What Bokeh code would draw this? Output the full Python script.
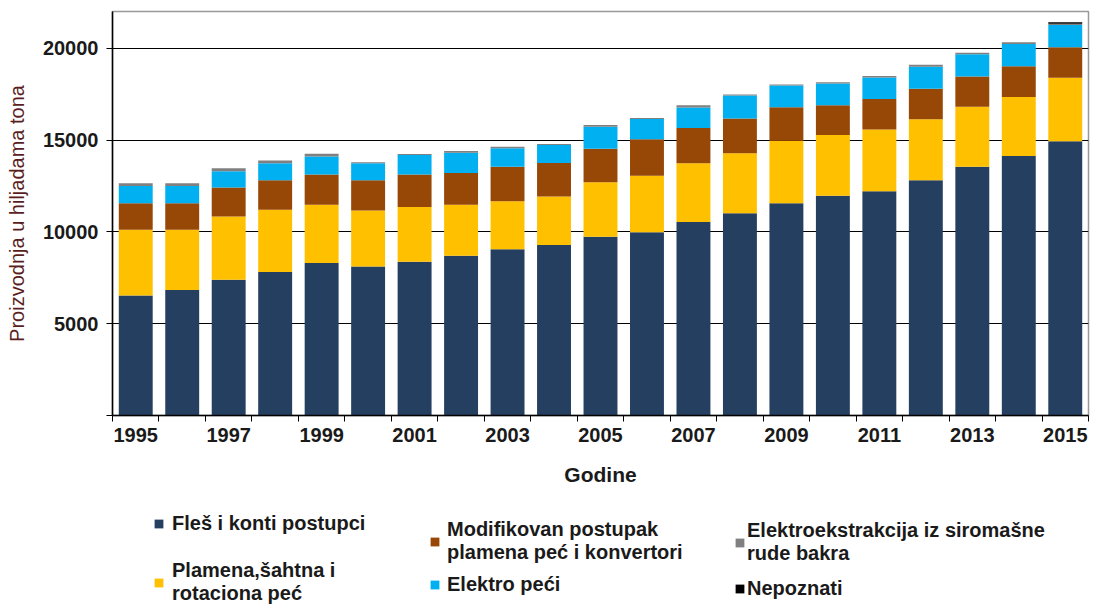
from bokeh.plotting import figure
from bokeh.models import (ColumnDataSource, Range1d, FixedTicker, Legend, LegendItem)
from bokeh.layouts import column
from bokeh.embed import file_html
from bokeh.resources import INLINE

years = list(range(1995, 2016))
fles = [6540, 6830, 7390, 7810, 8300, 8120, 8370, 8700, 9060, 9280, 9740,
        9980, 10540, 11020, 11560, 11960, 12210, 12810, 13550, 14130, 14930]
plamena = [3570, 3280, 3440, 3390, 3170, 3040, 2990, 2770, 2610, 2640, 2960,
           3080, 3190, 3260, 3400, 3310, 3370, 3320, 3260, 3220, 3460]
modifikovan = [1450, 1450, 1580, 1610, 1650, 1650, 1760, 1740, 1880, 1830, 1830,
               1980, 1920, 1900, 1820, 1620, 1660, 1660, 1650, 1670, 1670]
elektro = [940, 940, 890, 920, 980, 920, 1070, 1100, 1000, 980, 1200,
           1100, 1120, 1250, 1190, 1190, 1160, 1200, 1210, 1210, 1200]
ekstrakcija = [150, 150, 160, 160, 150, 55, 55, 90, 90, 55, 90,
               55, 130, 55, 55, 70, 90, 110, 90, 90, 70]
nepoznati = [0] * 20 + [90]

series = ["fles", "plamena", "modifikovan", "elektro", "ekstrakcija", "nepoznati"]
labels = ["Fleš i konti postupci", "Plamena,šahtna i\nrotaciona peć",
          "Modifikovan postupak\nplamena peć i konvertori", "Elektro peći",
          "Elektroekstrakcija iz siromašne\nrude bakra", "Nepoznati"]
colors = ["#243F60", "#FFC000", "#974706", "#00B0F0", "#808080", "#000000"]
y_ticks = [0, 5000, 10000, 15000, 20000]
x_label_years = [1995, 1997, 1999, 2001, 2003, 2005, 2007, 2009, 2011, 2013, 2015]

source = ColumnDataSource(dict(year=years, fles=fles, plamena=plamena,
                               modifikovan=modifikovan, elektro=elektro,
                               ekstrakcija=ekstrakcija, nepoznati=nepoznati))

FONT = "Liberation Sans"
W = 1090

p = figure(width=W, height=500, output_backend="svg", toolbar_location=None,
           x_range=Range1d(years[0] - 0.5, years[-1] + 0.5), y_range=Range1d(0, 22000),
           min_border_left=112, min_border_right=2, min_border_top=11, min_border_bottom=85)

p.vbar_stack(series, x="year", width=0.73, color=colors, line_color=None, source=source)

p.outline_line_color = "#999999"
p.outline_line_width = 1.5
p.background_fill_color = "white"
p.border_fill_color = "white"

p.xgrid.visible = False
p.ygrid.grid_line_color = "black"
p.ygrid.grid_line_width = 1.2
p.ygrid.ticker = FixedTicker(ticks=y_ticks[1:])

# y axis
ya = p.yaxis[0]
ya.ticker = FixedTicker(ticks=y_ticks)
ya.major_label_overrides = {0: ""}
ya.axis_line_color = "black"
ya.axis_line_width = 1.5
ya.major_tick_line_color = "black"
ya.major_tick_out = 6
ya.major_tick_in = 0
ya.minor_tick_line_color = None
ya.major_label_standoff = 8
ya.major_label_text_font = FONT
ya.major_label_text_font_style = "bold"
ya.major_label_text_font_size = "20px"
ya.major_label_text_color = "#1a1a1a"
ya.axis_label = "Proizvodnja u hiljadama tona"
ya.axis_label_text_font = FONT
ya.axis_label_text_font_style = "normal"
ya.axis_label_text_font_size = "20px"
ya.axis_label_text_color = "#5a1e1e"
ya.axis_label_standoff = 12

# x axis
xa = p.xaxis[0]
xa.ticker = FixedTicker(ticks=x_label_years,
                        minor_ticks=[y - 0.5 for y in years] + [years[-1] + 0.5])
xa.major_label_overrides = {y: str(y) for y in x_label_years}
xa.axis_line_color = "black"
xa.axis_line_width = 1.5
xa.major_tick_line_color = None
xa.major_tick_out = 6
xa.major_tick_in = 0
xa.minor_tick_line_color = "black"
xa.minor_tick_out = 6
xa.minor_tick_in = 0
xa.major_label_standoff = 6
xa.major_label_text_font = FONT
xa.major_label_text_font_style = "bold"
xa.major_label_text_font_size = "20px"
xa.major_label_text_color = "#1a1a1a"
xa.axis_label = "Godine"
xa.axis_label_text_font = FONT
xa.axis_label_text_font_style = "bold"
xa.axis_label_text_font_size = "21px"
xa.axis_label_text_color = "#1a1a1a"
xa.axis_label_standoff = 18

# legend panel (separate figure below the chart; its frame is aligned with the chart's)
lf = figure(width=W, height=105, output_backend="svg", toolbar_location=None,
            x_range=Range1d(years[0] - 0.5, years[-1] + 0.5),
            y_range=Range1d(-30000, -25000),
            min_border_left=0, min_border_right=0, min_border_top=0, min_border_bottom=0)
lf.axis.visible = False
lf.grid.visible = False
lf.outline_line_color = None
lf.background_fill_color = "white"
lf.border_fill_color = "white"

# same stacked series drawn with zero width (invisible): used only for the legend swatches
leg_renderers = lf.vbar_stack(series, x="year", width=0, color=colors,
                              line_color=None, source=source)


def make_legend(idx, loc, spacing, standoff):
    lg = Legend(items=[LegendItem(label=labels[i], renderers=[leg_renderers[i]]) for i in idx],
                location=loc, orientation="vertical", spacing=spacing,
                padding=0, margin=0, glyph_width=11, glyph_height=11,
                label_standoff=standoff, label_text_font=FONT,
                label_text_font_style="bold", label_text_font_size="20px",
                label_text_line_height=1.05,
                label_text_color="#1a1a1a", border_line_color=None,
                background_fill_alpha=0, label_height=20)
    lf.add_layout(lg, "center")


make_legend([0, 1], (41, 0), 24, 8)
make_legend([2, 3], (317, 9), 9, 7)
make_legend([4, 5], (622, 5), 12, 2)

layout = column(p, lf, spacing=0)
open("out.html", "w").write(file_html(layout, INLINE))
